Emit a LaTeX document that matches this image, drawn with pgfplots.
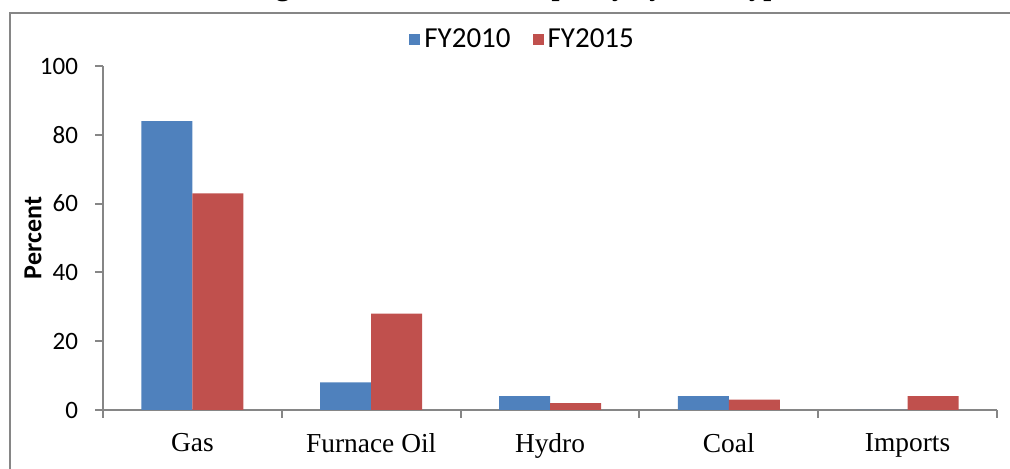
\documentclass[border=0pt]{standalone}
\usepackage{fontspec}
\setmainfont{Carlito}
\newfontfamily\seriffont{Liberation Serif}
\usepackage{pgfplots}
\pgfplotsset{compat=1.18}
\definecolor{xlblue}{HTML}{4F81BD}
\definecolor{xlred}{HTML}{C0504D}
\definecolor{framegray}{HTML}{868686}

\begin{document}
\begin{tikzpicture}
% chart frame, only its top and left edges fall on the page
\draw[framegray, line width=1pt] (5pt,-5pt) -- (5pt,228pt) -- (515pt,228pt);
% title, cut off at the top edge as in the reference
\node[anchor=base west, inner sep=0pt, font=\seriffont\bfseries\fontsize{14.3}{17}\selectfont]
  at (125pt,236.6pt) {Figure 1: Generation Capacity by Fuel Type};
\begin{axis}[
    at={(51.5pt,29.5pt)}, anchor=south west,
    scale only axis, width=447pt, height=172pt,
    ymin=0, ymax=100, ytick={0,20,...,100},
    xmin=-0.5, xmax=4.5,
    xtick={0,...,4},
    xticklabels={Gas,Furnace Oil,Hydro,Coal,Imports},
    minor xtick={-0.5,0.5,...,4.5},
    axis lines=left,
    axis line style={framegray, line width=1pt, -},
    tick align=outside,
    major tick length=4pt, minor tick length=4pt,
    major x tick style={draw=none},
    minor x tick style={framegray, line width=1pt},
    ytick style={framegray, line width=1pt},
    ybar=0pt, bar width=25.5pt,
    ticklabel style={font=\fontsize{12.5}{15}\selectfont},
    yticklabel style={xshift=-5pt},
    xticklabel style={font=\seriffont\fontsize{13.7}{16}\selectfont, yshift=-4pt},
    /pgf/number format/assume math mode=true,
    ylabel={Percent},
    ylabel style={font=\bfseries\fontsize{13}{15}\selectfont,
        at={(axis description cs:-0.0783,0.5)}, anchor=center},
    legend columns=2,
    legend style={draw=none, fill=none, at={(0.4705,1.0756)}, anchor=center,
        font=\fontsize{14.5}{17}\selectfont,
        /tikz/every even column/.append style={column sep=9pt}},
    legend image code/.code={\fill[#1] (0pt,-2.75pt) rectangle (5.5pt,2.75pt);},
]
\addplot[fill=xlblue, draw=none] coordinates {(0,84) (1,8) (2,4) (3,4) (4,0)};
\addplot[fill=xlred, draw=none] coordinates {(0,63) (1,28) (2,2) (3,3) (4,4)};
\legend{FY2010, FY2015}
\end{axis}
\pgfresetboundingbox
\path[use as bounding box] (0,0) rectangle (505pt,234.5pt);
\end{tikzpicture}
\end{document}
